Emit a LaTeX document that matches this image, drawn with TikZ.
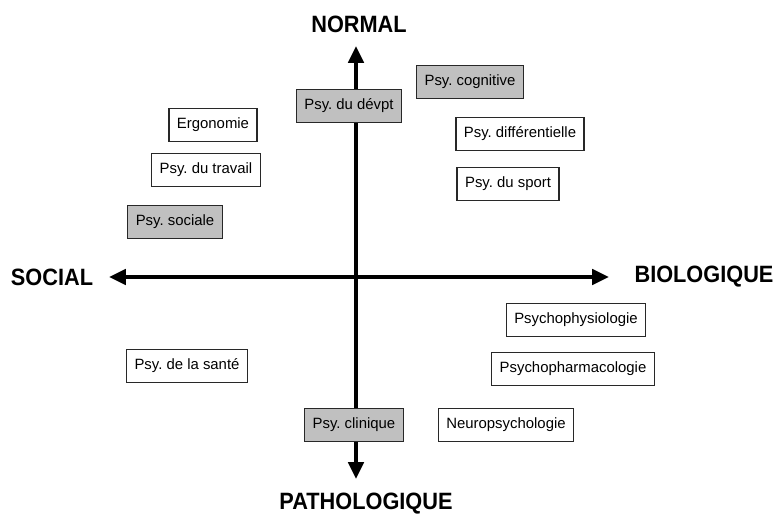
\documentclass[tikz,border=0pt]{standalone}
\usepackage{fontspec}
\setmainfont{Liberation Sans}
\newfontfamily\polefont[FakeStretch=0.92]{Liberation Sans}
\usepackage{tikz}
\usetikzlibrary{positioning, arrows.meta, calc}
\definecolor{boxgray}{RGB}{192,192,192}
\definecolor{boxline}{RGB}{40,40,40}
\frenchspacing

\begin{document}
\begin{tikzpicture}[x=0.025cm, y=-0.025cm,
font=\fontsize{10.6}{12}\selectfont,
field/.style={rectangle, draw=boxline, line width=0.9pt, fill=#1,
minimum height=0.82cm, inner xsep=0.2cm, text height=7.8pt, text depth=2.4pt},
field/.default=white,
pole/.style={font=\polefont\fontsize{16.8}{18}\selectfont\bfseries},
axis/.style={{Triangle[length=0.42cm,width=0.38cm]}-{Triangle[length=0.42cm,width=0.38cm]}, line width=2.8pt}
]
\useasboundingbox (0,0) rectangle (777,517);

% Poles
\node[pole] (normal) at (359,24) {NORMAL};
\node[pole] (social) at (52,277) {SOCIAL};
\node[pole] (bio) at (704,277) {BIOLOGIQUE};
\node[pole] (patho) at (366,504) {PATHOLOGIQUE};

% Axis ends
\coordinate (ntip) at (356,46);
\coordinate (ptip) at (356,479);
\coordinate (stip) at (109,277);
\coordinate (btip) at (609,277);

% Axes
\draw[axis] (stip) -- (btip);
\draw[axis] (ntip) -- (ptip);

% Upper left
\node[field] (ergo) at (213,125) {Ergonomie};
\node[field] (travail) at (206,170) {Psy. du travail};
\node[field=boxgray] (sociale) at (175,222) {Psy. sociale};

% Upper right
\node[field=boxgray] (devpt) at (349,106) {Psy. du dévpt};
\node[field=boxgray] (cogn) at (470,82) {Psy. cognitive};
\node[field] (diff) at (520,134) {Psy. différentielle};
\node[field] (sport) at (508,184) {Psy. du sport};

% Lower left
\node[field] (sante) at (187,366) {Psy. de la santé};

% Lower right
\node[field] (physio) at (576,320) {Psychophysiologie};
\node[field] (pharma) at (573,369) {Psychopharmacologie};
\node[field] (neuro) at (506,425) {Neuropsychologie};
\node[field=boxgray] (clinique) at (354,425) {Psy. clinique};

\end{tikzpicture}
\end{document}
